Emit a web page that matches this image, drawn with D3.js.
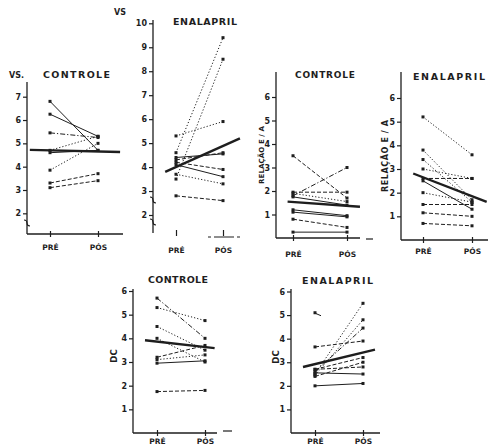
<!DOCTYPE html>
<html>
<head>
<meta charset="utf-8">
<script src="https://cdn.jsdelivr.net/npm/d3@7"></script>
<style>
body { margin: 0; background: #fff; }
svg { display: block; }
text { font-family: "DejaVu Sans", sans-serif; fill: #1e1e1e; }
</style>
</head>
<body>
<svg></svg>
<script>
// values: PRE -> POS for each subject, plus the mean line
var vsCtrlPre  = [6.8, 6.25, 5.45, 4.7, 4.6, 3.85, 3.3, 3.1];
var vsCtrlPos  = [4.7, 5.3, 5.25, 5.3, 4.7, 5.0, 3.7, 3.4];
var vsCtrlMean = [4.7, 4.65];

var vsEnaPre  = [4.6, 3.5, 5.3, 4.4, 4.3, 4.2, 4.1, 3.7, 2.8];
var vsEnaPos  = [9.4, 8.5, 5.9, 4.55, 4.6, 3.9, 3.6, 3.3, 2.6];
var vsEnaMean = [4.0, 4.88];

var eaCtrlPre  = [3.5, 1.8, 1.95, 1.9, 1.75, 1.2, 1.1, 0.8, 0.25];
var eaCtrlPos  = [1.7, 3.0, 1.95, 1.55, 1.4, 0.95, 0.9, 0.45, 0.25];
var eaCtrlMean = [1.53, 1.37];

var eaEnaPre  = [5.2, 3.8, 3.4, 3.0, 2.6, 2.5, 2.0, 1.5, 1.15, 0.7];
var eaEnaPos  = [3.6, 1.7, 1.6, 2.6, 2.6, 1.3, 1.6, 1.5, 1.0, 0.6];
var eaEnaMean = [2.65, 1.85];

var dcCtrlPre  = [5.7, 5.3, 4.5, 4.0, 3.2, 3.1, 2.95, 1.75];
var dcCtrlPos  = [4.0, 4.75, 3.5, 3.0, 3.7, 3.3, 3.05, 1.8];
var dcCtrlMean = [3.86, 3.63];

var dcEnaPre  = [2.5, 2.45, 2.6, 2.7, 2.7, 2.55, 2.4, 2.0, 3.65, 5.1];
var dcEnaPos  = [5.5, 4.8, 4.45, 3.2, 2.8, 2.5, 3.0, 2.1, 3.9, null];
var dcEnaMean = [2.92, 3.41];

var vsTicks = [2, 3, 4, 5, 6, 7];
var vsEnaTicks = [2, 3, 4, 5, 6, 7, 8, 9, 10];
var eaTicks = [1, 2, 3, 4, 5, 6];
var dcTicks = [1, 2, 3, 4, 5, 6];
var timeLabels = ["PRÉ", "PÓS"];

var width = 488, height = 448;
var svg = d3.select("svg").attr("width", width).attr("height", height);
var ink = "#1e1e1e";

var dashes = {
    s: null,
    d: "4,2",
    o: "1.2,2",
    dd: "5,2,1.2,2"
};

var panels = [
    {pre: vsCtrlPre, pos: vsCtrlPos, mean: vsCtrlMean, ticks: vsTicks,
     ax: 27, dom: [3, 7], rng: [190, 96.7], top: 82, base: 234, xEnd: 123, px: [50, 98],
     mt: [-0.42, 1.46], labY: 250,
     style: ["s", "s", "dd", "o", "s", "o", "d", "d"]},
    {pre: vsEnaPre, pos: vsEnaPos, mean: vsEnaMean, ticks: vsEnaTicks,
     ax: 153, dom: [2, 10], rng: [215, 23.3], top: 20, base: 233, xEnd: null, px: [176, 223],
     mt: [-0.23, 1.36], labY: 253,
     style: ["o", "o", "o", "s", "d", "d", "s", "o", "d"]},
    {pre: eaCtrlPre, pos: eaCtrlPos, mean: eaCtrlMean, ticks: eaTicks,
     ax: 276, dom: [0, 6], rng: [238, 97], top: 72, base: 238, xEnd: 360, px: [293, 347],
     mt: [-0.1, 1.24], labY: 257,
     style: ["d", "dd", "d", "o", "s", "s", "s", "d", "s"]},
    {pre: eaEnaPre, pos: eaEnaPos, mean: eaEnaMean, ticks: eaTicks,
     ax: 401, dom: [0, 6], rng: [240, 98], top: 72, base: 240, xEnd: 488, px: [423, 472],
     mt: [-0.2, 1.3], labY: 254,
     style: ["o", "o", "o", "o", "d", "s", "o", "d", "d", "d"]},
    {pre: dcCtrlPre, pos: dcCtrlPos, mean: dcCtrlMean, ticks: dcTicks,
     ax: 133, dom: [0, 6], rng: [433, 291], top: 289, base: 433, xEnd: 217, px: [157, 205],
     mt: [-0.25, 1.2], labY: 444,
     style: ["dd", "o", "o", "o", "d", "o", "s", "d"]},
    {pre: dcEnaPre, pos: dcEnaPos, mean: dcEnaMean, ticks: dcTicks,
     ax: 291, dom: [0, 6], rng: [433, 291.5], top: 289, base: 433, xEnd: 380, px: [315, 363],
     mt: [-0.25, 1.25], labY: 444,
     style: ["o", "o", "dd", "d", "d", "s", "d", "s", "d", "s"]}
];

panels.forEach(function(p) {
    var g = svg.append("g");
    var y = d3.scaleLinear().domain(p.dom).range(p.rng);
    var x = d3.scaleLinear().domain([0, 1]).range(p.px);
    var m = d3.scaleLinear().domain([0, 1]).range(p.mean);

    // y axis
    g.append("line").attr("x1", p.ax).attr("x2", p.ax).attr("y1", p.top).attr("y2", p.base)
        .attr("stroke", ink).attr("stroke-width", 1.3);
    var ya = g.append("g").attr("transform", "translate(" + p.ax + ",0)")
        .call(d3.axisLeft(y).tickValues(p.ticks).tickSize(4).tickPadding(2).tickFormat(d3.format("d")));
    ya.select(".domain").remove();
    ya.selectAll("line").attr("stroke", ink).attr("stroke-width", 1.2);
    ya.selectAll("text").attr("font-size", 8).attr("font-weight", "bold").attr("fill", ink);

    // x axis
    if (p.xEnd) {
        g.append("line").attr("x1", p.ax).attr("x2", p.xEnd).attr("y1", p.base).attr("y2", p.base)
            .attr("stroke", ink).attr("stroke-width", 1.3);
    }
    var xa = g.append("g").attr("transform", "translate(0," + (p.base - 3) + ")")
        .call(d3.axisBottom(x).tickValues([0, 1]).tickSize(6).tickFormat(function(d, i) { return timeLabels[i]; }));
    xa.select(".domain").remove();
    xa.selectAll("line").attr("stroke", ink).attr("stroke-width", 1.2);
    xa.selectAll("text").attr("y", null).attr("dy", null)
        .attr("transform", "translate(0," + (p.labY - p.base + 3) + ")")
        .attr("font-size", 7.5).attr("font-weight", "bold").attr("fill", ink);

    // subject lines
    var rows = p.pre.map(function(v, i) { return {a: v, b: p.pos[i], s: p.style[i]}; });
    rows.forEach(function(r) {
        if (r.b == null) {
            g.append("line").attr("x1", x(0) - 1).attr("x2", x(0) + 6)
                .attr("y1", y(r.a)).attr("y2", y(r.a) + 3)
                .attr("stroke", ink).attr("stroke-width", 1);
        } else {
            g.append("line").attr("x1", x(0)).attr("x2", x(1))
                .attr("y1", y(r.a)).attr("y2", y(r.b))
                .attr("stroke", ink).attr("stroke-width", 1)
                .attr("stroke-dasharray", dashes[r.s]);
        }
        g.append("rect").attr("x", x(0) - 1.5).attr("y", y(r.a) - 1.5)
            .attr("width", 3).attr("height", 3).attr("fill", ink);
        if (r.b != null) {
            g.append("rect").attr("x", x(1) - 1.5).attr("y", y(r.b) - 1.5)
                .attr("width", 3).attr("height", 3).attr("fill", ink);
        }
    });

    // mean line, drawn thicker and run past both ticks
    g.append("line")
        .attr("x1", x(p.mt[0])).attr("y1", y(m(p.mt[0])))
        .attr("x2", x(p.mt[1])).attr("y2", y(m(p.mt[1])))
        .attr("stroke", ink).attr("stroke-width", 2.4);
});

// partial x axis under the second panel and stray dashes of the scan
svg.append("line").attr("x1", 208).attr("x2", 242).attr("y1", 237).attr("y2", 237)
    .attr("stroke", ink).attr("stroke-width", 1.2).attr("stroke-dasharray", "3,3,20");
svg.append("line").attr("x1", 366).attr("x2", 373).attr("y1", 239).attr("y2", 239)
    .attr("stroke", ink).attr("stroke-width", 1.2);
svg.append("line").attr("x1", 223).attr("x2", 232).attr("y1", 431).attr("y2", 431)
    .attr("stroke", ink).attr("stroke-width", 1.2);

// axis break marks
function brk(xp, yp) {
    svg.append("path")
        .attr("d", "M" + (xp - 3) + "," + (yp - 3) + " q3,0 3,3 q0,3 3,3")
        .attr("fill", "none").attr("stroke", ink).attr("stroke-width", 1.1);
}
brk(27, 223);
brk(153, 200);
brk(153, 222);

// titles
function label(t, xp, yp, len, size, rot) {
    var el = svg.append("text").text(t)
        .attr("font-size", size).attr("font-weight", "bold");
    if (len) el.attr("textLength", len).attr("lengthAdjust", "spacing");
    if (rot) {
        el.attr("text-anchor", "middle")
            .attr("transform", "translate(" + xp + "," + yp + ") rotate(-90)");
    } else {
        el.attr("x", xp).attr("y", yp);
    }
}
label("VS.", 9, 78, null, 8, false);
label("CONTROLE", 43, 78, 67, 9.5, false);
label("VS", 114, 15, null, 8, false);
label("ENALAPRIL", 173, 25, 64, 9.5, false);
label("CONTROLE", 295, 78, 60, 9, false);
label("ENALAPRIL", 413, 80, 72, 9.5, false);
label("CONTROLE", 148, 283, 60, 9.5, false);
label("ENALAPRIL", 302, 284, 71, 9.5, false);
label("RELAÇÃO  E / A", 264, 155, 58, 7, true);
label("RELAÇÃO  E / A", 388, 156, 72, 8, true);
label("DC", 117, 356, null, 8.5, true);
label("DC", 279, 357, null, 8.5, true);
</script>
</body>
</html>
